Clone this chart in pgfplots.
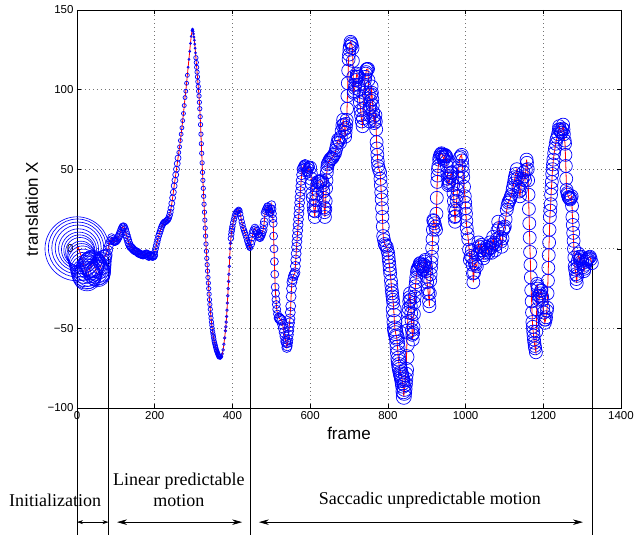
\documentclass[border=0pt]{standalone}
\usepackage{pgfplots}
\pgfplotsset{compat=1.18}
\usepackage{pgfplotstable}
\usepackage{fontspec}
\setmainfont{Liberation Sans}
\newfontfamily\timesfont{Liberation Serif}
\usetikzlibrary{arrows.meta}

\pgfplotstableread{
f y
0 0
3 1
6 -1
10 -4
15 -8
20 -13
26 -17.6
30 -15
34 -11
40 -9
45 -11
50 -15
53 -16
57 -14
62 -10
68 -6
75 -4
82 2
89 7
91 6
93 5
95 4.5
97 4.4
99 4.6
101 5
103 5.6
105 6.5
107 7.5
109 8.5
111 9.7
113 11
115 12.3
117 13.4
119 14
121 13.6
123 12.3
125 10.5
127 8.8
129 7.2
131 5.5
133 3.8
135 2.5
137 1.5
139 1
141 0.6
143 0
145 -0.5
147 -1
149 -1.3
151 -1.6
153 -1.8
155 -2
157 -2.5
159 -3
161 -3.2
163 -3.4
165 -3.5
167 -3.8
169 -4
171 -4
173 -3.7
175 -3.5
177 -3.2
179 -3
181 -3.5
183 -4.5
185 -5
187 -4.3
189 -4
191 -4.3
193 -4.7
195 -5
197 -4.5
198 -4
200 -2
202 0
204 2
206 4
208 6
210 8
212 9.5
214 11
216 12.5
218 14
220 15
222 16
224 16.5
226 17
228 17
230 17.5
232 18
234 18.5
236 19.5
238 21
240 23
242 25.5
244 28.5
246 32
248 35.5
250 39.5
252 43
254 46.5
256 50
258 53.5
260 57
262 60.5
264 64
266 68
268 72
270 76
272 80.5
274 85
276 90
278 95
280 99
282 104
284 109
286 114
288 119
290 124
292 129
294 133.5
296 137
297 138
298 137.5
299 136.5
300 135
301 133
302 131
303 128.5
304 126
305 123
306 120
307 117
308 114
309 111
310 108
311 105
312 102
313 99
314 96
315 92
316 88
317 83
318 78
319 72
320 66
321 60
322 54
323 48
324 43
325 38
326 33
327 28
328 23
329 18
330 13
331 8
332 3
333 -1.5
334 -6
335 -10
336 -14
337 -18
338 -21.5
339 -25
340 -28.5
341 -32
342 -35
343 -38
344 -41
345 -43.5
346 -46
347 -48
348 -50
349 -52
350 -53.5
351 -55
352 -56.5
353 -58
354 -59
355 -60
356 -61
357 -62
358 -63
359 -63.8
360 -64.5
361 -65.2
362 -65.8
363 -66.4
364 -67
365 -67.5
366 -68
367 -68.3
368 -68.5
369 -68.6
370 -68.5
371 -68.2
372 -67.5
374 -66
376 -63.5
378 -60
380 -56
382 -51.5
383 -49
384 -46
385 -42.5
386 -38.5
387 -34
388 -29.5
389 -25
390 -20.5
391 -16
392 -11
393 -5.5
394 0
395 3.5
396 6.5
397 9
398 11
399 12.5
400 14
402 16.5
404 18.5
406 20.5
408 22
410 23
412 23.5
414 24
416 24.5
418 24
420 22
422 19.5
424 17
426 15
428 13
430 11.5
432 10
434 8.5
436 7
438 5
440 3.5
442 2
444 1
445 0.6
447 3
449 5
451 7.5
453 10
455 11.5
458 13
460 12
463 11
465 9.5
467 8
469 7.3
471 7
473 8
475 9
477 10.5
479 12
481 15
482 17
484 22.6
486 24
488 25
490 26
491 26.5
493 25
494 24
496 23
497 22.6
499 25
501 27.7
502 25
503 22
504 19
505 16
506 8
507 0
508 -8
509 -16
510 -24
511 -28
512 -32
513 -35
514 -38
516 -41
518 -43
520 -43.5
522 -44
524 -44.5
527 -45
529 -47.5
531 -50
533 -52.5
535 -55
537 -58
538 -59
540 -62
541 -61
542 -59
543 -57
544 -54
545 -51.5
546 -49
547 -46.5
548 -44
549 -40
550 -36
551 -30
552 -25
553 -21
555 -19
557 -17
559 -16
561 -15
562 -11
563 -7
564 -3
565 1
566 4.5
567 8
568 11.5
569 15
570 18.5
571 22
572 25.5
573 29
574 32.5
575 36
576 39.5
577 43
578 46.5
579 50
581 51
583 52
585 52.5
587 53
589 51
591 49
592 48.5
594 48
596 50.5
597 52
599 51.5
600 51
602 47
603 44
604 41
606 35
607 32
609 27
610 24
612 20
613 23.5
614 27
615 30.5
616 34
617 37
618 40
620 42
622 42
625 42
627 42.5
630 43
632 41.5
633 40
634 36
635 32
636 26
637 23
638 20
639 25
640 30
641 38
642 43
643 48
644 51
645 53
647 54
649 55
651 56
653 56.5
655 57
657 57
659 58
661 59
664 60
666 62
668 64
670 66.5
672 68.6
674 68
677 66.7
679 70
681 74
683 77.5
685 81
687 78
688 75
690 70.4
691 73
692 76
693 78.5
694 81
695 88
696 96
697 104
698 112
699 119
700 122
701 125
702 127
704 130
706 129
707 128
709 126
710 118
711 108
712 98
713 99
715 101
716 103
718 106
719 108
720 110
722 109
723 108
725 103
726 100
727 96
728 92
730 87
731 84
733 80
735 77
736 82
737 88
738 93
739 98
740 102
741 106
742 108
743 110
744 111
745 112.6
747 113
749 113
750 106
751 97
752 88
753 80
754 84
755 89
756 93
757 97
758 102
759 98
760 94
761 90
762 86
763 83
765 79
766 81
768 84
769 80
770 75
771 67
772 63
773 59
774 55
775 52
777 50
780 48
781 44
782 40
783 35.5
784 31
785 25.5
786 20
787 14
788 8
790 5.5
792 3
794 2
797 1.3
799 -1
801 -3
802 -5.5
803 -8
804 -10.5
805 -13
806 -15.5
808 -20
809 -23
810 -26
811 -28
812 -30
813 -32
814 -34
815 -38
816 -42
817 -46
818 -50
819 -51.5
820 -53
822 -55
823 -56
824 -59
825 -62
826 -65.5
827 -69
828 -71
829 -73
830 -74.5
831 -76
833 -78
834 -79
835 -80
836 -81
837 -82.5
838 -84
839 -86
840 -89.5
841 -93
842 -90.5
843 -88
844 -85
845 -82
846 -79
847 -76
848 -68
849 -60
850 -52
851 -46
852 -40
853 -37.5
855 -33
856 -30.5
857 -28
858 -32
859 -36
860 -40.5
861 -45
862 -51
863 -54
864 -57
865 -53
866 -49
867 -41
868 -34
869 -30
870 -26
871 -23.5
872 -21
873 -18
875 -14.5
876 -13
878 -12
880 -11
882 -9.5
883 -9
885 -10
887 -11
889 -12.5
890 -13
892 -11
893 -10
895 -8
896 -7
898 -11
899 -14
900 -17.5
901 -21
903 -25.5
904 -28
906 -33
907 -36
908 -28
909 -20
910 -16
911 -12
912 -8.5
913 -5
914 0.5
915 6
916 12
917 18
918 17.5
920 16
922 14
924 12
925 22
926 32
927 42
928 46
929 50
930 52
932 56
933 57.5
935 59
937 59.5
938 60
940 59
941 58
943 57
944 56
946 58
947 59
949 58.5
950 58
951 55
952 52
953 48
954 44
955 40
957 41
958 42
960 45
961 46
963 47.5
964 48
966 44
968 40
969 35
970 30
971 25
972 20
973 17
974 20.5
975 24
977 30
978 33
979 37
980 41
981 45
982 49
983 52
985 57
987 58
990 59
991 55.5
992 52
993 48.5
994 45
996 39
998 33
999 29
1000 25.5
1001 22
1002 17.5
1003 13
1005 9.5
1007 6
1009 -0.5
1011 -7
1013 -4.5
1016 -1
1017 -5.5
1018 -10
1019 -15.5
1020 -21
1022 -15
1024 -9
1026 -10
1029 -11
1031 -3.5
1033 4
1035 1.5
1037 -1
1039 1
1041 2.5
1043 -1
1046 -6
1048 -4
1050 -2.5
1052 -0.5
1054 1.3
1057 -1
1059 -2.5
1061 0.5
1063 4
1065 0.5
1067 -2.5
1069 2.5
1071 7.5
1073 3.5
1076 -1
1078 2.5
1080 6
1082 11.5
1084 17
1086 13
1089 7.5
1091 4.5
1093 1.3
1095 6.5
1097 12
1099 13
1101 14
1103 18.5
1106 24.5
1108 27
1110 29
1112 30
1114 31
1116 32.5
1118 34
1121 37
1122 38.5
1124 41
1126 43.5
1127 45
1129 47
1132 50
1134 44.5
1136 39
1138 36
1140 33
1142 37
1144 41.5
1146 44
1149 48
1151 45.5
1153 43
1155 49.5
1157 56
1158 54
1160 50
1161 43
1162 34
1163 25
1164 16
1165 7
1166 -2
1167 -10
1168 -18
1169 -26
1170 -33
1171 -40
1172 -46
1173 -49
1174 -52
1175 -54.5
1176 -57
1177 -59
1178 -61
1179 -62.5
1181 -65
1182 -52
1183 -38
1184 -22
1185 -23.5
1186 -25
1188 -29.5
1189 -32
1191 -29.5
1192 -28
1194 -26.5
1195 -26
1197 -30
1198 -32
1200 -37
1201 -40
1203 -44.5
1204 -46.5
1206 -44.5
1207 -43
1209 -39
1210 -37
1211 -28
1212 -20
1213 -12
1214 -4
1215 4
1216 12
1217 20
1218 24
1219 28
1220 34
1221 38
1222 42
1223 47
1224 50
1225 53
1226 56
1228 60
1230 63
1232 66
1234 68.6
1236 70
1238 72
1240 75
1241 77
1243 75
1244 74
1246 73
1247 73
1249 75.5
1251 78
1252 75
1253 72
1255 68
1256 66
1257 59
1258 52
1259 44
1260 37
1262 35
1263 34
1265 32.5
1266 32
1268 31.5
1269 31
1271 32
1273 33
1274 27
1275 20
1276 15
1277 10
1278 5
1279 0
1280 -5.5
1281 -11
1282 -13
1284 -16
1285 -19
1286 -21.5
1287 -17
1288 -12
1289 -7.5
1290 -3
1292 -5
1294 -7
1296 -6
1298 -5
1300 -7.5
1301 -9
1303 -11.5
1305 -14
1306 -12.5
1308 -10
1310 -8
1311 -7
1313 -6.5
1315 -6
1318 -5.5
1320 -5
1322 -6.5
1325 -9
}\maintab

\pgfplotstableread{
f y r
0 0 32
1 0.5 29
2 0.5 26
3 0.5 23
4 0 20
5 -0.5 17.5
6 -1 15.5
8 -2 14.5
10 -4 14
12 -5.5 14
14 -7 14
16 -9 14
18 -11 14
20 -13 14
22 -15 14
24 -16.5 14
26 -17.6 14
28 -16.5 13.5
30 -15 13.5
32 -13 13.5
34 -11 13.5
36 -10 13
38 -9.5 13
40 -9 13
42 -10 13
44 -11 13
46 -12 13
48 -13.5 13
50 -15 13
53 -16 12.5
55 -15 12
57 -14 11.5
60 -12 10.5
62 -10 10
65 -8 9
68 -6 8
71 -5 7
75 -4 6
79 -1 5
82 2 4.5
86 5 4
89 7 4
}\inittab

\begin{document}
\begin{tikzpicture}
\begin{axis}[
  at={(0pt,0pt)}, anchor=south west,
  scale only axis, width=544pt, height=398pt,
  xmin=0, xmax=1400, ymin=-100, ymax=150,
  xtick={0,200,...,1400}, ytick={-100,-50,...,150},
  xticklabels={0,200,400,600,800,1000,1200,1400},
  yticklabels={−100,−50,0,50,100,150},
  tick label style={font=\fontsize{11.5}{13}\selectfont},
  tick align=inside, major tick length=4pt,
  tick style={black, line width=0.5pt},
  axis line style={black, line width=0.8pt},
  grid=major,
  major grid style={black!55, line width=0.6pt, dash pattern=on 0.7pt off 3.3pt},
  xlabel={frame}, ylabel={translation X},
  label style={font=\fontsize{17}{20}\selectfont},
  xlabel style={at={(axis description cs:0.5,-0.065)}, anchor=center},
  ylabel style={at={(axis description cs:-0.083,0.5)}, anchor=center},
  clip=false,
]
% initialization circles with explicit radii
\addplot[scatter, only marks, mark=o, point meta=0,
  scatter/use mapped color={draw=blue},
  mark options={line width=0.65pt},
  visualization depends on={\thisrow{r}\as\rad},
  scatter/@pre marker code/.append style={/tikz/mark size=\rad pt}]
  table[x=f, y=y] {\inittab};
% circles along the trajectory
\pgfplotsset{circ/.style={only marks, mark=o, color=blue, mark options={line width=0.7pt}}}
\addplot[circ, mark size=3.8pt, restrict x to domain=90:199] table[x=f,y=y] {\maintab};
\addplot[circ, mark size=3pt, restrict x to domain=200:261] table[x=f,y=y] {\maintab};
\addplot[circ, mark size=2pt, restrict x to domain=262:285] table[x=f,y=y] {\maintab};
\addplot[circ, mark size=1pt, restrict x to domain=286:305] table[x=f,y=y] {\maintab};
\addplot[circ, mark size=2.2pt, restrict x to domain=306:366] table[x=f,y=y] {\maintab};
\addplot[circ, mark size=1.3pt, restrict x to domain=367:395] table[x=f,y=y] {\maintab};
\addplot[circ, mark size=2.8pt, restrict x to domain=396:445] table[x=f,y=y] {\maintab};
\addplot[circ, mark size=4pt, restrict x to domain=446:519] table[x=f,y=y] {\maintab};
\addplot[circ, mark size=5pt, restrict x to domain=520:599] table[x=f,y=y] {\maintab};
\addplot[circ, mark size=6.5pt, restrict x to domain=600:814] table[x=f,y=y] {\maintab};
\addplot[circ, mark size=7.5pt, restrict x to domain=815:850] table[x=f,y=y] {\maintab};
\addplot[circ, mark size=6.5pt, restrict x to domain=851:1330] table[x=f,y=y] {\maintab};
% red trajectory
\addplot[red, line width=0.8pt, mark=none] table[x=f,y=y] {\maintab};

% annotation below the axis
\draw[line width=0.6pt] (axis cs:0,-100) -- (axis cs:0,-182);
\draw[line width=0.6pt] (axis cs:81,-5) -- (axis cs:81,-182);
\draw[line width=0.6pt] (axis cs:445,0.6) -- (axis cs:445,-182);
\draw[line width=0.6pt] (axis cs:1325,-9) -- (axis cs:1325,-182);
\draw[{Stealth[length=6pt,width=4pt]}-{Stealth[length=6pt,width=4pt]}, line width=0.6pt]
  (axis cs:0,-171.7) -- (axis cs:81,-171.7);
\draw[{Stealth[length=10pt,width=5.5pt]}-{Stealth[length=10pt,width=5.5pt]}, line width=0.6pt]
  (axis cs:103,-171.7) -- (axis cs:425,-171.7);
\draw[{Stealth[length=10pt,width=5.5pt]}-{Stealth[length=10pt,width=5.5pt]}, line width=0.6pt]
  (axis cs:468,-171.7) -- (axis cs:1302,-171.7);
\node[font=\timesfont\fontsize{18}{21}\selectfont] at (axis cs:-56.6,-157.7) {Initialization};
\node[font=\timesfont\fontsize{18}{21}\selectfont, align=center] at (axis cs:262,-151.2) {Linear predictable\\motion};
\node[font=\timesfont\fontsize{18}{21}\selectfont] at (axis cs:908,-157.7) {Saccadic unpredictable motion};
\end{axis}
\pgfresetboundingbox
\path[use as bounding box] (-77pt,-127pt) rectangle (558pt,408pt);
\end{tikzpicture}
\end{document}
